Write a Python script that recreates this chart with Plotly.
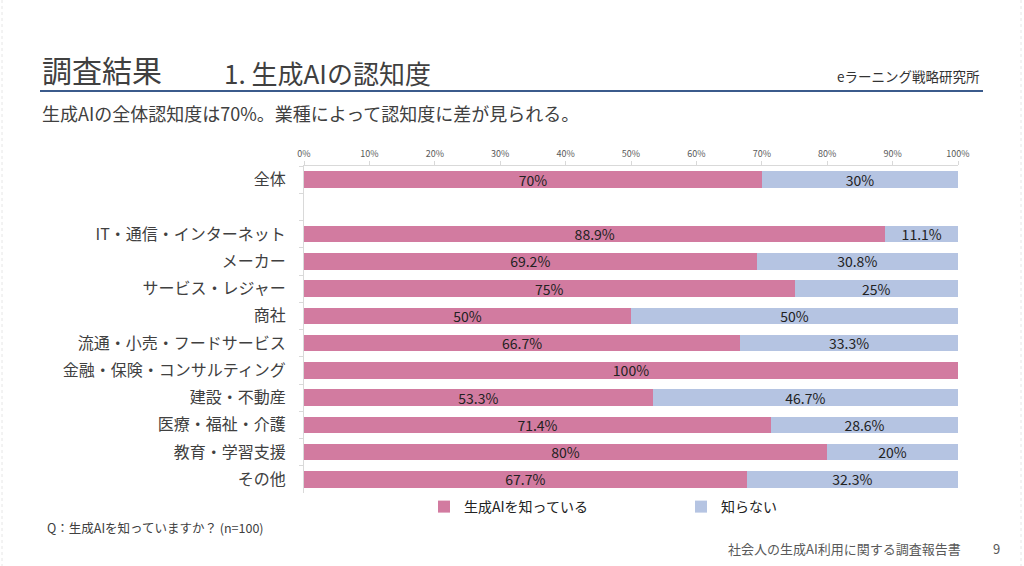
import plotly.graph_objects as go

categories = ["全体", " ", "IT・通信・インターネット", "メーカー", "サービス・レジャー", "商社",
              "流通・小売・フードサービス", "金融・保険・コンサルティング", "建設・不動産",
              "医療・福祉・介護", "教育・学習支援", "その他"]
known = [70, None, 88.9, 69.2, 75, 50, 66.7, 100, 53.3, 71.4, 80, 67.7]
unknown = [30, None, 11.1, 30.8, 25, 50, 33.3, 0, 46.7, 28.6, 20, 32.3]
known_labels = ["70%", "", "88.9%", "69.2%", "75%", "50%", "66.7%", "100%", "53.3%", "71.4%", "80%", "67.7%"]
unknown_labels = ["30%", "", "11.1%", "30.8%", "25%", "50%", "33.3%", "", "46.7%", "28.6%", "20%", "32.3%"]
xtick_vals = [0, 10, 20, 30, 40, 50, 60, 70, 80, 90, 100]
xtick_text = ["0%", "10%", "20%", "30%", "40%", "50%", "60%", "70%", "80%", "90%", "100%"]

PINK = "#D27BA0"
BLUE = "#B5C4E2"
FONT = "Noto Sans CJK JP"

W, H = 1024, 566
L, R, T, B = 304, 958, 166, 493

def px(x):
    return (x - L) / (R - L)

def py(y):
    return (B - y) / (B - T)

fig = go.Figure()
fig.add_trace(go.Bar(
    y=categories, x=known, orientation="h", name="生成AIを知っている",
    marker=dict(color=PINK, line=dict(width=0)), width=0.6,
    text=known_labels, textposition="inside", insidetextanchor="middle",
    textangle=0, constraintext="none",
    textfont=dict(family=FONT, size=14, color="#222222"),
    hoverinfo="skip",
))
fig.add_trace(go.Bar(
    y=categories, x=unknown, orientation="h", name="知らない",
    marker=dict(color=BLUE, line=dict(width=0)), width=0.6,
    text=unknown_labels, textposition="inside", insidetextanchor="middle",
    textangle=0, constraintext="none",
    textfont=dict(family=FONT, size=14, color="#222222"),
    hoverinfo="skip",
))

fig.update_layout(
    width=W, height=H, barmode="stack",
    margin=dict(l=L, r=W - R, t=T, b=H - B, autoexpand=False),
    paper_bgcolor="white", plot_bgcolor="white",
    font=dict(family=FONT, color="#404040"),
    showlegend=True,
    legend=dict(orientation="h", x=px(424), y=py(507), xanchor="left", yanchor="middle",
                traceorder="normal",
                font=dict(family=FONT, size=14, color="#222222"),
                entrywidth=212, entrywidthmode="pixels", itemwidth=30,
                bgcolor="rgba(0,0,0,0)"),
)
fig.update_xaxes(
    range=[0, 100], side="top", tickvals=xtick_vals, ticktext=xtick_text,
    tickfont=dict(family=FONT, size=9, color="#595959"),
    showgrid=False, zeroline=False, showline=True, linecolor="#D9D9D9", linewidth=1,
    ticks="outside", ticklen=4, tickcolor="#D9D9D9",
    fixedrange=True,
)
fig.update_yaxes(
    categoryorder="array", categoryarray=categories, autorange="reversed",
    tickfont=dict(family=FONT, size=16, color="#404040"),
    showgrid=False, zeroline=False, showline=True, linecolor="#D9D9D9", linewidth=1,
    ticks="outside", ticklen=4, tickcolor="#D9D9D9", tickson="boundaries",
    ticklabelstandoff=14, fixedrange=True,
)

def ann(text, x, y, size, color="#404040", xanchor="left", yanchor="middle"):
    fig.add_annotation(text=text, x=px(x), y=py(y), xref="paper", yref="paper",
                       xanchor=xanchor, yanchor=yanchor, showarrow=False,
                       font=dict(family=FONT, size=size, color=color))

ann("調査結果", 40, 69, 30, "#404040")
ann("1. 生成AIの認知度", 222, 72, 26, "#404040")
ann("eラーニング戦略研究所", 982, 76, 13.5, "#333333", xanchor="right")
ann("生成AIの全体認知度は70%。業種によって認知度に差が見られる。", 40, 113, 18, "#404040")
ann("Q：生成AIを知っていますか？ (n=100)", 45, 527, 12.5, "#404040")
ann("社会人の生成AI利用に関する調査報告書", 963, 548, 13, "#595959", xanchor="right")
ann("9", 996, 548, 13, "#595959", xanchor="center")

fig.add_shape(type="line", xref="paper", yref="paper", x0=px(40), x1=px(983),
              y0=py(91), y1=py(91), line=dict(color="#3B5B8C", width=2))
for xx in (2, 1021):
    fig.add_shape(type="line", xref="paper", yref="paper", x0=px(xx), x1=px(xx),
                  y0=py(0), y1=py(566), line=dict(color="#E6E6E6", width=1, dash="dot"))

fig.write_html("out.html", config={"displayModeBar": False},
               post_script="document.body.style.margin='0';document.body.style.overflow='hidden';")
